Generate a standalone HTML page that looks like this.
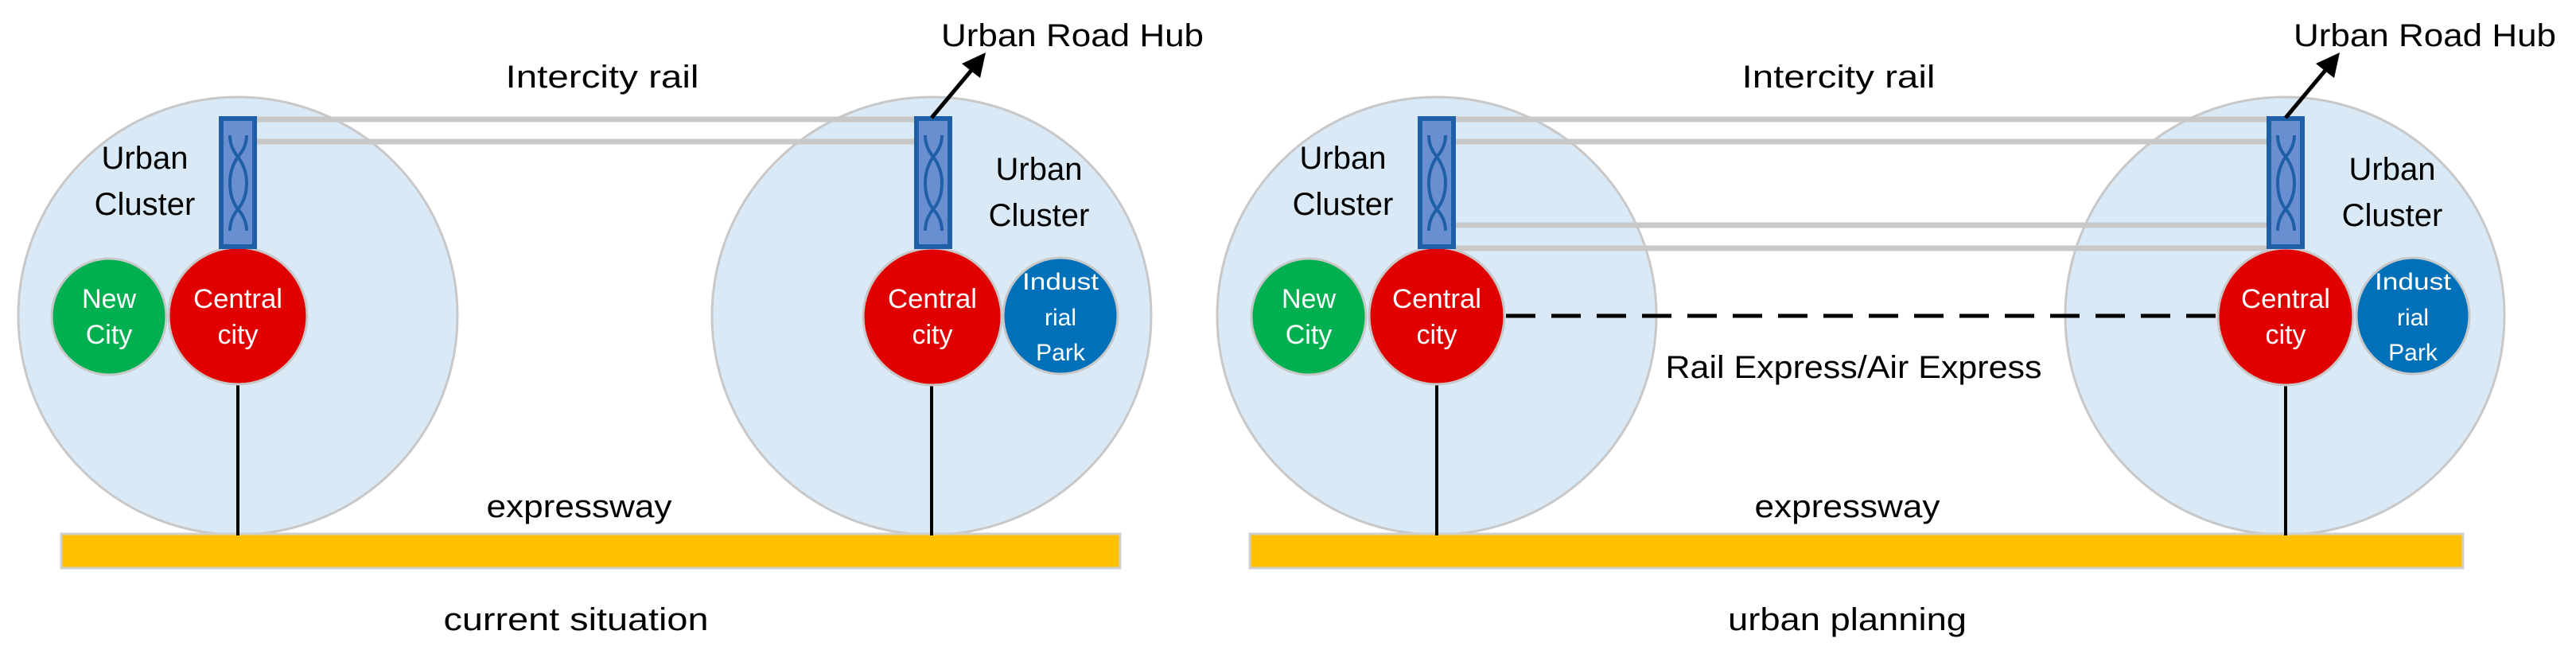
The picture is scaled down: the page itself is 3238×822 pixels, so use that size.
<!DOCTYPE html>
<html><head><meta charset="utf-8"><style>
html,body{margin:0;padding:0;background:#fff;}
svg{display:block;}
text{font-family:"Liberation Sans",sans-serif;}
</style></head><body>
<svg width="3238" height="822" viewBox="0 0 3238 822" xmlns="http://www.w3.org/2000/svg">

<!-- LEFT DIAGRAM -->
<ellipse cx="299" cy="397" rx="276" ry="275" fill="#dae9f6" stroke="#c8c8c8" stroke-width="3"/>
<ellipse cx="1171" cy="397" rx="276" ry="275" fill="#dae9f6" stroke="#c8c8c8" stroke-width="3"/>
<rect x="77" y="671" width="1331" height="43" fill="#ffc000" stroke="#cfcfcf" stroke-width="3"/>
<line x1="323" y1="150" x2="1150" y2="150" stroke="#c8c8c8" stroke-width="7"/>
<line x1="323" y1="178" x2="1150" y2="178" stroke="#c8c8c8" stroke-width="7"/>
<line x1="299" y1="480" x2="299" y2="673" stroke="#000" stroke-width="4"/>
<line x1="1171" y1="480" x2="1171" y2="673" stroke="#000" stroke-width="4"/>
<ellipse cx="137" cy="398" rx="72" ry="73" fill="#00b050" stroke="#c8c8c8" stroke-width="3"/>
<ellipse cx="299" cy="397" rx="87" ry="86" fill="#e00000" stroke="#c8c8c8" stroke-width="3"/>
<ellipse cx="1172" cy="398" rx="87" ry="86" fill="#e00000" stroke="#c8c8c8" stroke-width="3"/>
<ellipse cx="1333" cy="397" rx="72" ry="73" fill="#0070b8" stroke="#c8c8c8" stroke-width="3"/>
<g id="hubL">
<rect x="278" y="149" width="42" height="161" fill="#6a8fd0" stroke="#1f5fa8" stroke-width="6"/>
<path d="M289,170 Q289,185 299,197 Q310,212 310,230 Q310,250 299,263 Q289,275 289,290" fill="none" stroke="#1f5fa8" stroke-width="4"/>
<path d="M310,170 Q310,185 299,197 Q289,212 289,230 Q289,250 299,263 Q310,275 310,290" fill="none" stroke="#1f5fa8" stroke-width="4"/>
</g>
<use href="#hubL" transform="translate(874,0)"/>
<line x1="1171" y1="148" x2="1228" y2="80" stroke="#000" stroke-width="5"/>
<polygon points="1239,66 1209,80 1232,98" fill="#000"/>

<g font-size="40" fill="#000" text-anchor="middle">
<text x="1348" y="58" textLength="330" lengthAdjust="spacingAndGlyphs">Urban Road Hub</text>
<text x="757" y="110" textLength="243" lengthAdjust="spacingAndGlyphs">Intercity rail</text>
<text x="182" y="212">Urban</text>
<text x="182" y="270">Cluster</text>
<text x="1306" y="226">Urban</text>
<text x="1306" y="284">Cluster</text>
<text x="728" y="650" textLength="233" lengthAdjust="spacingAndGlyphs">expressway</text>
<text x="724" y="792" textLength="333" lengthAdjust="spacingAndGlyphs">current situation</text>
</g>
<g font-size="34" fill="#fff" text-anchor="middle">
<text x="137" y="387">New</text>
<text x="137" y="432">City</text>
<text x="299" y="387" textLength="112" lengthAdjust="spacingAndGlyphs">Central</text>
<text x="299" y="432">city</text>
<text x="1172" y="387" textLength="112" lengthAdjust="spacingAndGlyphs">Central</text>
<text x="1172" y="432">city</text>
</g>
<g font-size="30" fill="#fff" text-anchor="middle">
<text x="1333" y="364" textLength="96" lengthAdjust="spacingAndGlyphs">Indust</text>
<text x="1333" y="409">rial</text>
<text x="1333" y="453">Park</text>
</g>

<!-- RIGHT DIAGRAM -->
<ellipse cx="1806" cy="397" rx="276" ry="275" fill="#dae9f6" stroke="#c8c8c8" stroke-width="3"/>
<ellipse cx="2872" cy="397" rx="276" ry="275" fill="#dae9f6" stroke="#c8c8c8" stroke-width="3"/>
<rect x="1571" y="671" width="1525" height="43" fill="#ffc000" stroke="#cfcfcf" stroke-width="3"/>
<line x1="1828" y1="150" x2="2850" y2="150" stroke="#c8c8c8" stroke-width="7"/>
<line x1="1828" y1="178" x2="2850" y2="178" stroke="#c8c8c8" stroke-width="7"/>
<line x1="1828" y1="283" x2="2850" y2="283" stroke="#c8c8c8" stroke-width="7"/>
<line x1="1828" y1="312" x2="2850" y2="312" stroke="#c8c8c8" stroke-width="7"/>
<line x1="1806" y1="480" x2="1806" y2="673" stroke="#000" stroke-width="4"/>
<line x1="2873" y1="480" x2="2873" y2="673" stroke="#000" stroke-width="4"/>
<line x1="1893" y1="397" x2="2786" y2="397" stroke="#000" stroke-width="5" stroke-dasharray="37,20"/>
<ellipse cx="1645" cy="398" rx="72" ry="73" fill="#00b050" stroke="#c8c8c8" stroke-width="3"/>
<ellipse cx="1806" cy="397" rx="85" ry="86" fill="#e00000" stroke="#c8c8c8" stroke-width="3"/>
<ellipse cx="2873" cy="398" rx="85" ry="86" fill="#e00000" stroke="#c8c8c8" stroke-width="3"/>
<ellipse cx="3033" cy="397" rx="71" ry="73" fill="#0070b8" stroke="#c8c8c8" stroke-width="3"/>
<use href="#hubL" transform="translate(1507,0)"/>
<use href="#hubL" transform="translate(2574,0)"/>
<line x1="2873" y1="148" x2="2930" y2="80" stroke="#000" stroke-width="5"/>
<polygon points="2941,66 2911,80 2934,98" fill="#000"/>

<g font-size="40" fill="#000" text-anchor="middle">
<text x="3048" y="58" textLength="330" lengthAdjust="spacingAndGlyphs">Urban Road Hub</text>
<text x="2311" y="110" textLength="243" lengthAdjust="spacingAndGlyphs">Intercity rail</text>
<text x="1688" y="212">Urban</text>
<text x="1688" y="270">Cluster</text>
<text x="3007" y="226">Urban</text>
<text x="3007" y="284">Cluster</text>
<text x="2330" y="475" textLength="473" lengthAdjust="spacingAndGlyphs">Rail Express/Air Express</text>
<text x="2322" y="650" textLength="233" lengthAdjust="spacingAndGlyphs">expressway</text>
<text x="2322" y="792" textLength="300" lengthAdjust="spacingAndGlyphs">urban planning</text>
</g>
<g font-size="34" fill="#fff" text-anchor="middle">
<text x="1645" y="387">New</text>
<text x="1645" y="432">City</text>
<text x="1806" y="387" textLength="112" lengthAdjust="spacingAndGlyphs">Central</text>
<text x="1806" y="432">city</text>
<text x="2873" y="387" textLength="112" lengthAdjust="spacingAndGlyphs">Central</text>
<text x="2873" y="432">city</text>
</g>
<g font-size="30" fill="#fff" text-anchor="middle">
<text x="3033" y="364" textLength="96" lengthAdjust="spacingAndGlyphs">Indust</text>
<text x="3033" y="409">rial</text>
<text x="3033" y="453">Park</text>
</g>
</svg>
</body></html>
